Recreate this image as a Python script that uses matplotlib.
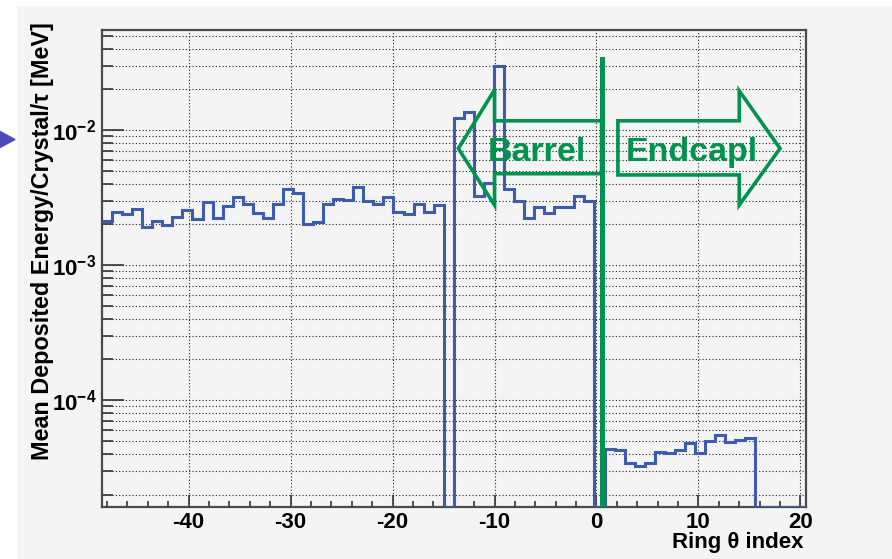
import numpy as np
import matplotlib
matplotlib.use('Agg')
import matplotlib.pyplot as plt
from matplotlib.patches import Polygon, Rectangle
from matplotlib.ticker import LogLocator, NullFormatter, MultipleLocator, FixedLocator

plt.rcParams['font.family'] = ['Liberation Sans', 'DejaVu Sans']
plt.rcParams['font.weight'] = 'bold'
plt.rcParams['axes.labelweight'] = 'bold'
plt.rcParams['axes.unicode_minus'] = False
plt.rcParams['mathtext.fontset'] = 'custom'
plt.rcParams['mathtext.rm'] = 'Liberation Sans:bold'
plt.rcParams['mathtext.it'] = 'Liberation Sans:bold'
plt.rcParams['mathtext.bf'] = 'Liberation Sans:bold'

# histogram binning (ring index)
n_bins = 70
x_lo, x_hi = -48.5, 20.5
y_lo, y_hi = 1.63e-5, 5.55e-2

# mean deposited energy per crystal per tau [MeV]
barrel_outer = [2.13e-3, 2.47e-3, 2.40e-3, 2.60e-3, 1.92e-3, 2.13e-3, 1.97e-3,
                2.28e-3, 2.55e-3, 2.19e-3, 2.93e-3, 2.24e-3, 2.74e-3, 3.17e-3,
                2.83e-3, 2.43e-3, 2.23e-3, 2.85e-3, 3.66e-3, 3.40e-3, 2.02e-3,
                2.07e-3, 2.83e-3, 3.08e-3, 3.03e-3, 3.77e-3, 2.96e-3, 2.83e-3,
                3.17e-3, 2.47e-3, 2.39e-3, 2.85e-3, 2.46e-3, 2.77e-3]
barrel_inner = [1.23e-2, 1.37e-2, 3.26e-3, 4.07e-3, 2.99e-2, 3.64e-3, 2.98e-3,
                2.22e-3, 2.70e-3, 2.42e-3, 2.70e-3, 2.70e-3, 3.24e-3, 2.98e-3]
endcap = [4.31e-5, 4.26e-5, 3.44e-5, 3.26e-5, 3.40e-5, 4.14e-5, 4.07e-5,
          4.26e-5, 4.83e-5, 4.03e-5, 4.97e-5, 5.51e-5, 4.91e-5, 5.06e-5, 5.26e-5]

values = np.array(barrel_outer + [0.0] + barrel_inner + [0.0] + endcap + [0.0] * 5)
edges = np.linspace(x_lo, x_hi, n_bins + 1)
# empty bins sit on the bottom of the frame, like ROOT does on a log pad
shown = np.where(values > 0, values, y_lo)

bg = '#f4f4f4'
green = '#00924f'
blue = '#3d5cae'

fig = plt.figure(figsize=(8.92, 5.59), dpi=100, facecolor=bg)
fig.patches.append(Rectangle((0, 0), 16 / 892, 1, transform=fig.transFigure,
                             color='white', zorder=0))
fig.patches.append(Rectangle((0, 1 - 5 / 559), 1, 5 / 559, transform=fig.transFigure,
                             color='white', zorder=0))
fig.patches.append(Polygon([(0, 1 - 131.5 / 559), (15 / 892, 1 - 139.5 / 559),
                            (0, 1 - 147.5 / 559)], closed=True,
                           transform=fig.transFigure, color='#4a4ab8', zorder=1))

ax = fig.add_axes([102 / 892, 1 - 506.5 / 559, 703.5 / 892, 477 / 559])
ax.set_facecolor(bg)
ax.set_yscale('log')
ax.set_xlim(x_lo, x_hi)
ax.set_ylim(y_lo, y_hi)

ax.stairs(shown, edges, baseline=None, color=blue, lw=2.2, zorder=3)

# grid: dotted at every y tick, x majors only
ax.xaxis.set_major_locator(MultipleLocator(10))
ax.xaxis.set_minor_locator(MultipleLocator(2))
ax.yaxis.set_major_locator(FixedLocator([1e-4, 1e-3, 1e-2]))
ax.yaxis.set_minor_locator(LogLocator(base=10, subs=np.arange(2, 10)))
ax.yaxis.set_minor_formatter(NullFormatter())
ax.set_yticklabels([r'$10^{-4}$', r'$10^{-3}$', r'$10^{-2}$'])
grid_style = dict(color='#222222', linestyle=(0, (1, 2)), linewidth=0.8)
ax.grid(True, which='major', axis='both', **grid_style)
ax.grid(True, which='minor', axis='y', **grid_style)
ax.set_axisbelow(True)

ax.tick_params(which='both', direction='in', top=False, right=False,
               labelsize=16, color='#333333')
ax.tick_params(axis='x', which='major', length=8.5, width=1.2, pad=4)
ax.tick_params(axis='x', which='minor', length=4.3, width=1.2)
ax.tick_params(axis='y', which='major', length=16, width=1.2, pad=4)
ax.tick_params(axis='y', which='minor', length=8, width=1.2)
for s in ax.spines.values():
    s.set_color('#4a4a4a')
    s.set_linewidth(1.6)

ax.set_xlabel('Ring \u03b8 index', fontsize=16, fontweight='bold', ha='right')
ax.xaxis.set_label_coords(0.9965, -0.053)
ax.set_ylabel('Mean Deposited Energy/Crystal/\u03c4 [MeV]', fontsize=16.8,
              fontweight='bold')
ax.yaxis.set_label_coords(-0.068, 0.557)

# barrel / endcap divider and arrows
ax.axvline(0.5, ymin=0.0, ymax=0.938, color=green, lw=3.6, zorder=5)
barrel_arrow = [(-13.55, 7.3e-3), (-10.0, 1.98e-2), (-10.0, 1.17e-2), (0.5, 1.17e-2),
                (0.5, 4.75e-3), (-10.0, 4.75e-3), (-10.0, 2.78e-3)]
endcap_arrow = [(2.1, 1.17e-2), (14.0, 1.17e-2), (14.0, 1.95e-2), (18.0, 7.3e-3),
                (14.0, 2.78e-3), (14.0, 4.65e-3), (2.1, 4.65e-3)]
for pts in (barrel_arrow, endcap_arrow):
    ax.add_patch(Polygon(pts, closed=True, fill=False, edgecolor=green, lw=2.6,
                         joinstyle='miter', zorder=6, clip_on=False))
ax.text(-5.85, 5.85e-3, 'Barrel', color=green, fontsize=24.5, fontweight='bold',
        ha='center', va='baseline', zorder=7)
ax.text(9.35, 5.85e-3, 'Endcapl', color=green, fontsize=24.5, fontweight='bold',
        ha='center', va='baseline', zorder=7)

fig.savefig('out.png', dpi=100, facecolor=fig.get_facecolor())
